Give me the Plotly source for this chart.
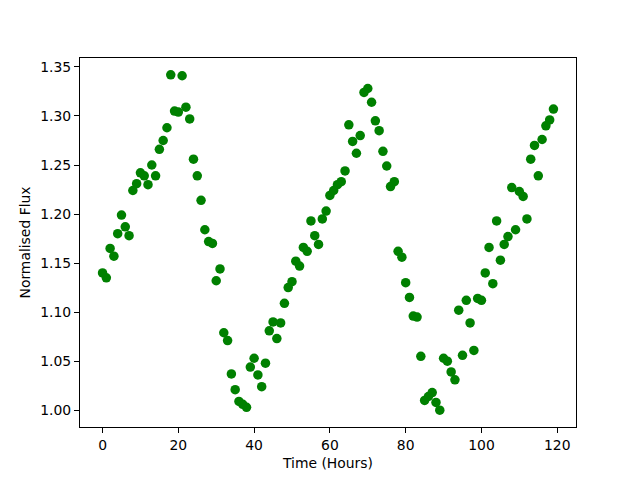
import plotly.graph_objects as go

time_hours = list(range(120))
flux = [
    1.140, 1.135, 1.165, 1.157, 1.180, 1.199, 1.187, 1.178, 1.224, 1.231,
    1.242, 1.239, 1.230, 1.250, 1.239, 1.266, 1.275, 1.288, 1.342, 1.305,
    1.304, 1.341, 1.309, 1.297, 1.256, 1.239, 1.214, 1.184, 1.172, 1.170,
    1.132, 1.144, 1.079, 1.071, 1.037, 1.021, 1.009, 1.006, 1.003, 1.044,
    1.053, 1.036, 1.024, 1.048, 1.081, 1.090, 1.073, 1.089, 1.109, 1.125,
    1.131, 1.152, 1.147, 1.166, 1.162, 1.193, 1.178, 1.169, 1.195, 1.203,
    1.219, 1.224, 1.230, 1.233, 1.244, 1.291, 1.274, 1.262, 1.280, 1.324,
    1.328, 1.314, 1.295, 1.285, 1.264, 1.249, 1.228, 1.233, 1.162, 1.156,
    1.130, 1.115, 1.096, 1.095, 1.055, 1.010, 1.014, 1.018, 1.008, 1.000,
    1.053, 1.050, 1.039, 1.031, 1.102, 1.056, 1.112, 1.089, 1.061, 1.114,
    1.112, 1.140, 1.166, 1.129, 1.193, 1.153, 1.169, 1.177, 1.227, 1.184,
    1.223, 1.218, 1.195, 1.256, 1.270, 1.239, 1.276, 1.290, 1.296, 1.307,
]
x_ticks = [0, 20, 40, 60, 80, 100, 120]
y_ticks = [1.00, 1.05, 1.10, 1.15, 1.20, 1.25, 1.30, 1.35]

fig = go.Figure(go.Scatter(
    x=time_hours, y=flux, mode="markers",
    marker=dict(color="#008000", size=9.5, line=dict(width=0)),
))

axis_common = dict(
    showline=True, linecolor="black", linewidth=1, mirror=True,
    ticks="outside", ticklen=5, tickwidth=1, tickcolor="black",
    showgrid=False, zeroline=False, automargin=False,
    tickfont=dict(family="DejaVu Sans", size=13.9, color="black"),
    title_font=dict(family="DejaVu Sans", size=13.9, color="black"),
)

fig.update_xaxes(range=[-5.95, 124.95], tickvals=x_ticks,
                 ticktext=[str(v) for v in x_ticks],
                 title_text="Time (Hours)", title_standoff=6, **axis_common)
fig.update_yaxes(range=[0.9829, 1.3591], tickvals=y_ticks,
                 ticktext=[f"{v:.2f}" for v in y_ticks],
                 title_text="Normalised Flux", title_standoff=6, **axis_common)

fig.update_layout(
    width=640, height=480,
    margin=dict(l=72, r=72, t=50, b=61, pad=0),
    paper_bgcolor="white", plot_bgcolor="white",
    showlegend=False,
    font=dict(family="DejaVu Sans", color="black"),
)

fig.write_html("out.html")
